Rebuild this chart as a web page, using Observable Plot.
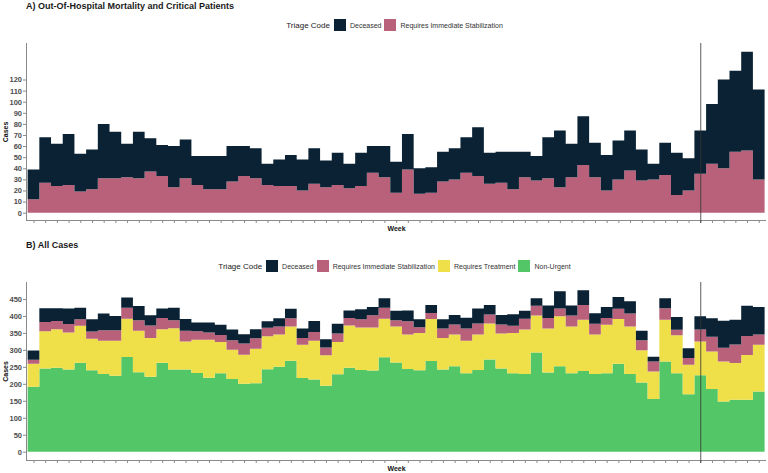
<!DOCTYPE html>
<html><head><meta charset="utf-8">
<script src="https://cdn.jsdelivr.net/npm/d3@7"></script>
<script src="https://cdn.jsdelivr.net/npm/@observablehq/plot@0.6"></script>
<style>
body{margin:0;background:#fff;font-family:"Liberation Sans",Arial,sans-serif;}
#wrap{position:relative;width:768px;height:473px;overflow:hidden;background:#fff;}
.title{position:absolute;left:26px;font-weight:bold;font-size:9px;color:#1a1a1a;white-space:nowrap;line-height:1;}
.legend{position:absolute;left:26px;width:740px;display:flex;justify-content:center;align-items:center;font-size:7px;color:#333;white-space:nowrap;}
.legend .lt{font-size:8px;margin-right:4px;color:#222;}
.legend .sw{width:12px;height:12px;margin-right:4px;}
.legend .it{display:flex;align-items:center;margin-right:3px;}
.panel{position:absolute;left:0;}
svg g[aria-label="y-axis tick label"] text{font-weight:bold;fill:#4d4d4d;font-size:7.5px;}
svg g[aria-label="y-axis label"] text, svg g[aria-label="x-axis label"] text{font-weight:bold;fill:#111;font-size:7px;}
</style></head><body><div id="wrap"></div>
<script>
// ---- data ----
const weeks = d3.range(1, 64);
const deceased = [27,41,38,46,34,36,49,42,30,42,30,28,37,35,26,30,30,32,27,27,19,24,28,28,32,24,29,22,30,24,28,28,32,23,23,27,28,32,44,28,28,34,23,22,37,51,30,44,31,32,35,36,28,14,29,38,29,39,54,80,73,89,81];
const stabilization = [12,27,24,25,19,21,31,31,32,31,37,33,23,31,25,21,21,28,33,31,25,24,24,20,26,23,25,22,24,36,32,18,39,17,18,28,30,36,33,26,27,21,32,29,31,23,32,43,32,20,30,38,29,30,34,16,20,35,44,40,55,56,30];
const treatment = [68,110,114,109,109,93,98,103,113,122,114,99,122,83,98,112,92,86,86,101,97,95,101,98,114,90,95,125,125,127,114,106,101,110,124,93,93,96,104,106,103,119,131,109,130,147,138,151,116,143,132,140,95,81,123,112,87,100,110,118,108,132,138];
const nonUrgent = [191,245,247,242,262,240,229,224,279,234,221,262,242,242,232,218,231,214,200,202,243,250,268,217,213,194,228,247,241,239,278,263,244,240,267,242,252,231,241,272,245,231,229,292,233,252,231,238,229,231,259,229,204,155,266,231,169,225,185,148,153,153,177];
const codes = ["Deceased","Requires Immediate Stabilization","Requires Treatment","Non-Urgent"];
const colors = ["#0a2233","#b9617a","#efe04a","#53c667"];
const markerWeek = 58;
const yTicksA = d3.range(0, 121, 10);
const yTicksB = d3.range(0, 451, 50);
const yDomainA = [-6.6, 152.9];
const yDomainB = [-24.5, 500];
const xDomain = [0.36, 63.62];
const titleA = "A) Out-Of-Hospital Mortality and Critical Patients";
const titleB = "B) All Cases";
const legendTitle = "Triage Code";

// step rows: each week spans [week-0.5, week+0.5]; closing point repeats last value
function rows(series) {
  const out = [];
  for (const {code, values} of series) {
    weeks.forEach((w, i) => out.push({x: w - 0.5, y: values[i], code}));
    out.push({x: weeks[weeks.length - 1] + 0.5, y: values[values.length - 1], code});
  }
  return out;
}

const wrap = document.getElementById("wrap");
function addTitle(text, top) {
  const d = document.createElement("div");
  d.className = "title"; d.style.top = top + "px"; d.textContent = text;
  wrap.appendChild(d);
}
function addLegend(items, top) {
  const d = document.createElement("div");
  d.className = "legend"; d.style.top = top + "px"; d.style.height = "12px";
  const t = document.createElement("span"); t.className = "lt"; t.textContent = legendTitle; d.appendChild(t);
  for (const c of items) {
    const it = document.createElement("span"); it.className = "it";
    const sw = document.createElement("span"); sw.className = "sw"; sw.style.background = colors[codes.indexOf(c)];
    const lb = document.createElement("span"); lb.textContent = c;
    it.appendChild(sw); it.appendChild(lb); d.appendChild(it);
  }
  wrap.appendChild(d);
}

function panel({data, order, yDomain, yTicks, top, height, marginTop, marginBottom}) {
  const p = Plot.plot({
    width: 768, height, marginLeft: 26, marginRight: 2, marginTop, marginBottom,
    style: {fontFamily: "Liberation Sans, Arial, sans-serif", fontSize: "7px", background: "transparent"},
    x: {domain: xDomain},
    y: {domain: yDomain},
    color: {domain: codes, range: colors},
    marks: [
      Plot.areaY(data, {x: "x", y: "y", fill: "code", curve: "step-after", order}),
      Plot.ruleX([xDomain[0]], {stroke: "#8a8a8a", strokeWidth: 1}),
      Plot.ruleY([yDomain[0]], {stroke: "#8a8a8a", strokeWidth: 1}),
      Plot.axisY(yTicks, {anchor: "left", tickSize: 3, tickPadding: 1.5, stroke: "#8a8a8a", label: "Cases", labelAnchor: "center", labelArrow: "none", labelOffset: 23}),
      Plot.axisX(weeks, {anchor: "bottom", tickSize: 3, stroke: "#8a8a8a", tickFormat: () => "", label: "Week", labelAnchor: "center", labelArrow: "none", labelOffset: 10}),
      Plot.ruleX([markerWeek], {stroke: "#333", strokeWidth: 0.8, insetBottom: -3})
    ]
  });
  p.classList.add("panel");
  p.style.top = top + "px";
  wrap.appendChild(p);
}

addTitle(titleA, 2);
addLegend(["Deceased","Requires Immediate Stabilization"], 19);
panel({
  data: rows([{code: "Requires Immediate Stabilization", values: stabilization}, {code: "Deceased", values: deceased}]),
  order: ["Requires Immediate Stabilization","Deceased"],
  yDomain: yDomainA, yTicks: yTicksA, top: 36, height: 200, marginTop: 7, marginBottom: 16
});

addTitle(titleB, 241);
addLegend(["Deceased","Requires Immediate Stabilization","Requires Treatment","Non-Urgent"], 260);
panel({
  data: rows([{code: "Non-Urgent", values: nonUrgent}, {code: "Requires Treatment", values: treatment}, {code: "Requires Immediate Stabilization", values: stabilization}, {code: "Deceased", values: deceased}]),
  order: ["Non-Urgent","Requires Treatment","Requires Immediate Stabilization","Deceased"],
  yDomain: yDomainB, yTicks: yTicksB, top: 276, height: 197, marginTop: 6, marginBottom: 13
});
</script></body></html>
